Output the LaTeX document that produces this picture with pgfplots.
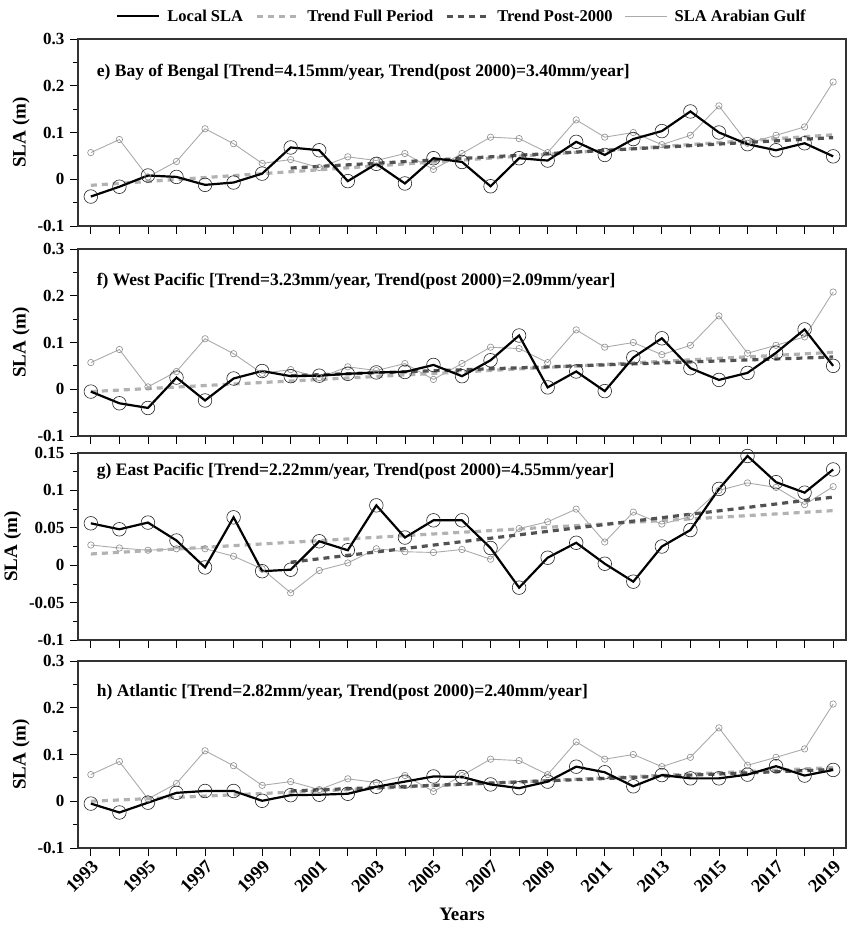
\documentclass[border=0pt]{standalone}
\usepackage{pgfplots}
\usepackage{pgfplotstable}
\pgfplotsset{compat=1.18}
\usepackage{fontspec}
\setmainfont{Liberation Serif}

% year, local SLA per region (e-h), Arabian Gulf series (common / panel g)
\pgfplotstableread{
year  e       f       g       h       gulf   gulfg
1993 -0.037  -0.005   0.056  -0.005   0.057   0.027
1994 -0.016  -0.030   0.048  -0.024   0.085   0.023
1995  0.008  -0.040   0.057  -0.003   0.005   0.020
1996  0.005   0.025   0.033   0.018   0.038   0.022
1997 -0.012  -0.024  -0.003   0.022   0.108   0.022
1998 -0.007   0.023   0.064   0.022   0.076   0.012
1999  0.012   0.039  -0.008   0.001   0.034  -0.005
2000  0.068   0.028  -0.006   0.013   0.042  -0.037
2001  0.062   0.029   0.032   0.014   0.025  -0.007
2002 -0.004   0.033   0.020   0.016   0.048   0.003
2003  0.033   0.036   0.080   0.031   0.040   0.022
2004 -0.009   0.037   0.037   0.042   0.055   0.018
2005  0.045   0.052   0.060   0.053   0.021   0.017
2006  0.037   0.028   0.060   0.052   0.055   0.021
2007 -0.015   0.062   0.023   0.036   0.090   0.008
2008  0.045   0.115  -0.030   0.028   0.087   0.049
2009  0.040   0.004   0.010   0.042   0.057   0.058
2010  0.080   0.038   0.030   0.074   0.127   0.075
2011  0.052  -0.004   0.002   0.062   0.090   0.031
2012  0.086   0.068  -0.022   0.032   0.100   0.071
2013  0.103   0.109   0.025   0.056   0.074   0.055
2014  0.145   0.045   0.047   0.049   0.094   0.065
2015  0.100   0.020   0.102   0.049   0.157   0.100
2016  0.075   0.035   0.146   0.057   0.077   0.110
2017  0.062   0.078   0.111   0.075   0.094   0.104
2018  0.077   0.128   0.097   0.055   0.112   0.081
2019  0.049   0.050   0.128   0.067   0.208   0.105
}\sla

\pgfplotsset{
  panel/.style={
    width=768pt, height=187pt, scale only axis, anchor=north west,
    xmin=1992.55, xmax=2019.45,
    xtick={1993,1995,...,2019}, xticklabels={},
    extra x ticks={1994,1996,...,2018}, extra x tick labels={},
    ymin=-0.1, ymax=0.3, ytick={-0.1,0,0.1,0.2,0.3},
    yticklabels={-0.1,0,0.1,0.2,0.3},
    minor y tick num=1,
    tick align=outside, xtick pos=bottom, ytick pos=left,
    major tick length=8pt, minor tick length=5pt,
    axis line style={draw=black!80, line width=1.1pt},
    tick style={black, line width=0.8pt},
    ylabel={SLA (m)},
    ylabel style={font=\bfseries\fontsize{19}{19}\selectfont, yshift=1pt},
    tick label style={font=\bfseries\fontsize{17}{17}\selectfont},
    yticklabel style={xshift=-2pt},
    clip=false,
  },
  loc/.style={black, line width=2.2pt, mark=o, mark size=6.8pt,
    mark options={solid, line width=0.6pt, draw=black!85}},
  gulf/.style={black!33, line width=0.9pt, mark=o, mark size=3.2pt,
    mark options={solid, line width=0.6pt, draw=black!45}},
  tfull/.style={black!30, line width=3.2pt, dash pattern=on 6pt off 5pt},
  tpost/.style={black!68, line width=3.2pt, dash pattern=on 6pt off 5pt},
}
\tikzset{ttl/.style={anchor=west, font=\bfseries\fontsize{17.5}{17.5}\selectfont}}

\begin{document}
\begin{tikzpicture}

% e) Bay of Bengal
\begin{axis}[panel, name=e, at={(0,0)},
  legend style={at={(0.5,1)}, anchor=south, yshift=12pt, draw=none, fill=none,
    legend columns=4, font=\bfseries\fontsize{16.5}{16.5}\selectfont,
    /tikz/every odd column/.append style={column sep=5pt},
    /tikz/every even column/.append style={column sep=10pt}},
  legend image code/.code={\draw[#1] (0pt,0pt) -- (42pt,0pt);}]
\addlegendimage{black, line width=2.2pt}
\addlegendentry{Local SLA}
\addlegendimage{black!30, line width=3.2pt, dash pattern=on 6pt off 5pt}
\addlegendentry{Trend Full Period}
\addlegendimage{black!68, line width=3.2pt, dash pattern=on 6pt off 5pt}
\addlegendentry{Trend Post-2000}
\addlegendimage{black!33, line width=0.9pt}
\addlegendentry{SLA Arabian Gulf}
\addplot[gulf, forget plot] table[x=year, y=gulf] {\sla};
\addplot[tfull, forget plot] coordinates {(1993,-0.013) (2019,0.095)};
\addplot[tpost, forget plot] coordinates {(2000,0.024) (2019,0.089)};
\addplot[loc, forget plot] table[x=year, y=e] {\sla};
\node[ttl] at (rel axis cs:0.02,0.82) {e) Bay of Bengal [Trend=4.15mm/year, Trend(post 2000)=3.40mm/year]};
\end{axis}

% f) West Pacific
\begin{axis}[panel, name=f, at={(0,-210pt)}]
\addplot[gulf] table[x=year, y=gulf] {\sla};
\addplot[tfull] coordinates {(1993,-0.005) (2019,0.079)};
\addplot[tpost] coordinates {(2000,0.029) (2019,0.069)};
\addplot[loc] table[x=year, y=f] {\sla};
\node[ttl] at (rel axis cs:0.02,0.83) {f) West Pacific [Trend=3.23mm/year, Trend(post 2000)=2.09mm/year]};
\end{axis}

% g) East Pacific
\begin{axis}[panel, name=g, at={(0,-414pt)},
  ymin=-0.1, ymax=0.15, ytick={-0.1,-0.05,0,0.05,0.1,0.15},
  yticklabels={-0.1,-0.05,0,0.05,0.1,0.15}]
\addplot[gulf] table[x=year, y=gulfg] {\sla};
\addplot[tfull] coordinates {(1993,0.015) (2019,0.073)};
\addplot[tpost] coordinates {(2000,0.004) (2019,0.091)};
\addplot[loc] table[x=year, y=g] {\sla};
\node[ttl] at (rel axis cs:0.02,0.90) {g) East Pacific [Trend=2.22mm/year, Trend(post 2000)=4.55mm/year]};
\end{axis}

% h) Atlantic
\begin{axis}[panel, name=h, at={(0,-622pt)},
  xticklabels={1993,1995,1997,1999,2001,2003,2005,2007,2009,2011,2013,2015,2017,2019},
  xticklabel style={rotate=45, anchor=north east, inner sep=2pt,
    font=\bfseries\fontsize{18.5}{18.5}\selectfont},
  xlabel={Years}, xlabel style={font=\bfseries\fontsize{19}{19}\selectfont, yshift=8pt}]
\addplot[gulf] table[x=year, y=gulf] {\sla};
\addplot[tfull] coordinates {(1993,0.000) (2019,0.072)};
\addplot[tpost] coordinates {(2000,0.022) (2019,0.068)};
\addplot[loc] table[x=year, y=h] {\sla};
\node[ttl] at (rel axis cs:0.02,0.83) {h) Atlantic [Trend=2.82mm/year, Trend(post 2000)=2.40mm/year]};
\end{axis}

\pgfresetboundingbox
\path[use as bounding box] (-78pt,39pt) rectangle (771pt,-886pt);
\end{tikzpicture}
\end{document}
